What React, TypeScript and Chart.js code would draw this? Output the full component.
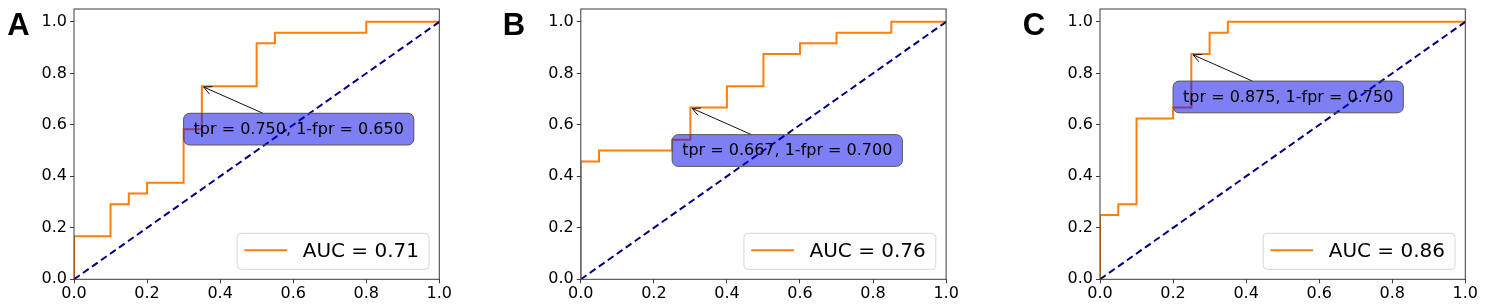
import React, { useEffect, useRef } from 'react';
import { Chart, registerables } from 'chart.js';

Chart.register(...registerables);

// ---- data ----
const PANEL_LETTERS = ['A', 'B', 'C'];

const FPR_A = [0, 0, 0.1, 0.1, 0.15, 0.15, 0.2, 0.2, 0.3, 0.3, 0.35, 0.35, 0.5, 0.5, 0.55, 0.55, 0.8, 0.8, 1.0];
const TPR_A = [0, 0.167, 0.167, 0.292, 0.292, 0.333, 0.333, 0.375, 0.375, 0.583, 0.583, 0.75, 0.75, 0.917, 0.917, 0.958, 0.958, 1.0, 1.0];

const FPR_B = [0, 0, 0.05, 0.05, 0.25, 0.25, 0.3, 0.3, 0.4, 0.4, 0.5, 0.5, 0.6, 0.6, 0.7, 0.7, 0.85, 0.85, 1.0];
const TPR_B = [0, 0.458, 0.458, 0.5, 0.5, 0.542, 0.542, 0.667, 0.667, 0.75, 0.75, 0.875, 0.875, 0.917, 0.917, 0.958, 0.958, 1.0, 1.0];

const FPR_C = [0, 0, 0.05, 0.05, 0.1, 0.1, 0.2, 0.2, 0.25, 0.25, 0.3, 0.3, 0.35, 0.35, 1.0];
const TPR_C = [0, 0.25, 0.25, 0.292, 0.292, 0.625, 0.625, 0.667, 0.667, 0.875, 0.875, 0.958, 0.958, 1.0, 1.0];

const ROC_FPR = [FPR_A, FPR_B, FPR_C];
const ROC_TPR = [TPR_A, TPR_B, TPR_C];

const AUC_VALUES = [0.71, 0.76, 0.86];
const ANNOT_TPR = [0.75, 0.667, 0.875];
const ANNOT_SPEC = [0.65, 0.7, 0.75];

const CHANCE_X = [0, 1];
const CHANCE_Y = [0, 1];

const TICKS = [0, 0.2, 0.4, 0.6, 0.8, 1.0];
const X_MIN = 0, X_MAX = 1.0;
const Y_MIN = 0, Y_MAX = 1.05;

// ---- layout / style ----
const PAGE_H = 308;
const CANVAS_LEFT = [0, 495, 1010];
const CANVAS_W = [462, 472, 476];
const AXES_LEFT = [74, 580.8, 1100];
const AXES_W = 365.3;
const AXES_TOP = 9;
const AXES_BOTTOM = 279.3;
const LETTER_X = [7.3, 502.7, 1022.7];
const LETTER_BASELINE = 35;

const ORANGE = '#ff7f0e';
const NAVY = '#000080';
const SPINE = '#3a3a3a';
const FONT = '"DejaVu Sans", Verdana, sans-serif';

function Panel({ idx }: { idx: number }) {
  const ref = useRef<HTMLCanvasElement | null>(null);

  useEffect(() => {
    const canvas = ref.current;
    if (!canvas) return;
    const left = CANVAS_LEFT[idx];
    const width = CANVAS_W[idx];
    const axesLeft = AXES_LEFT[idx] - left;
    const padRight = width - (axesLeft + AXES_W);

    const rocData = ROC_FPR[idx].map((x, i) => ({ x, y: ROC_TPR[idx][i] }));
    const chanceData = CHANCE_X.map((x, i) => ({ x, y: CHANCE_Y[i] }));
    const label = `AUC = ${AUC_VALUES[idx].toFixed(2)}`;
    const annotText = `tpr = ${ANNOT_TPR[idx].toFixed(3)}, 1-fpr = ${ANNOT_SPEC[idx].toFixed(3)}`;
    const ptX = 1 - ANNOT_SPEC[idx];
    const ptY = ANNOT_TPR[idx];

    const overlay = {
      id: 'overlay',
      afterDatasetsDraw(chart: any) {
        const { ctx, chartArea: ca, scales } = chart;
        const xs = scales.x;
        const ys = scales.y;
        ctx.save();

        // annotation arrow + box
        ctx.font = `16px ${FONT}`;
        const tw = ctx.measureText(annotText).width;
        const pad = 10;
        const bw = tw + 2 * pad;
        const bh = 31.7;
        const bx = xs.getPixelForValue(ptX - 0.05);
        const cy = ys.getPixelForValue(ptY - 1 / 6);
        const by = cy - bh / 2;
        const cx = bx + bw / 2;
        const px = xs.getPixelForValue(ptX);
        const py = ys.getPixelForValue(ptY);
        const dx = px - cx, dy = py - cy;
        const tx = (dx < 0 ? bx - cx : bx + bw - cx) / dx;
        const ty = (dy < 0 ? by - cy : by + bh - cy) / dy;
        const t0 = Math.min(Math.abs(tx), Math.abs(ty));
        const sx = cx + dx * t0, sy = cy + dy * t0;
        const len = Math.hypot(px - sx, py - sy);
        const ux = (px - sx) / len, uy = (py - sy) / len;
        const ex = px - ux * 2, ey = py - uy * 2;
        ctx.strokeStyle = '#111';
        ctx.lineWidth = 1;
        ctx.beginPath();
        ctx.moveTo(sx, sy);
        ctx.lineTo(ex, ey);
        const hl = 8, hw = 4;
        ctx.moveTo(ex - ux * hl - uy * hw, ey - uy * hl + ux * hw);
        ctx.lineTo(ex, ey);
        ctx.lineTo(ex - ux * hl + uy * hw, ey - uy * hl - ux * hw);
        ctx.stroke();

        ctx.beginPath();
        ctx.roundRect(bx, by, bw, bh, 6);
        ctx.fillStyle = 'rgba(0, 0, 235, 0.5)';
        ctx.fill();
        ctx.strokeStyle = '#555';
        ctx.lineWidth = 1;
        ctx.stroke();
        ctx.fillStyle = '#000';
        ctx.textAlign = 'left';
        ctx.textBaseline = 'middle';
        ctx.fillText(annotText, bx + pad, cy + 0.5);

        // legend
        ctx.font = `20px ${FONT}`;
        const ltw = ctx.measureText(label).width;
        const lh = 36;
        const lw = 7.3 + 42.7 + 15.6 + ltw + 10;
        const lx = ca.right - 10.3 - lw;
        const ly = ca.bottom - 10 - lh;
        ctx.beginPath();
        ctx.roundRect(lx, ly, lw, lh, 4);
        ctx.fillStyle = 'rgba(255,255,255,0.8)';
        ctx.fill();
        ctx.strokeStyle = '#d6d6d6';
        ctx.stroke();
        ctx.strokeStyle = ORANGE;
        ctx.lineWidth = 2;
        ctx.beginPath();
        ctx.moveTo(lx + 7.3, ly + lh / 2 - 1);
        ctx.lineTo(lx + 50, ly + lh / 2 - 1);
        ctx.stroke();
        ctx.fillStyle = '#000';
        ctx.textBaseline = 'middle';
        ctx.fillText(label, lx + 65.6, ly + lh / 2 + 0.5);

        // frame
        ctx.strokeStyle = SPINE;
        ctx.lineWidth = 1;
        ctx.strokeRect(ca.left, ca.top, ca.right - ca.left, ca.bottom - ca.top);

        // panel letter
        ctx.font = `bold 31px "Liberation Sans", Arial, sans-serif`;
        ctx.fillStyle = '#000';
        ctx.textAlign = 'left';
        ctx.textBaseline = 'alphabetic';
        ctx.fillText(PANEL_LETTERS[idx], LETTER_X[idx] - left, LETTER_BASELINE);
        ctx.restore();
      },
    };

    const fixTicks = (scale: any) => {
      scale.ticks = TICKS.map((v) => ({ value: v }));
    };

    const chart = new Chart(canvas, {
      type: 'line',
      data: {
        datasets: [
          {
            label,
            data: rocData,
            borderColor: ORANGE,
            borderWidth: 2,
            pointRadius: 0,
            tension: 0,
            fill: false,
            order: 1,
          },
          {
            label: 'chance',
            data: chanceData,
            borderColor: NAVY,
            borderWidth: 2,
            borderDash: [7, 4],
            pointRadius: 0,
            fill: false,
            order: 0,
          },
        ],
      },
      options: {
        responsive: false,
        animation: false,
        events: [],
        layout: { padding: { left: 0, top: AXES_TOP, right: padRight, bottom: 0 } },
        plugins: { legend: { display: false }, tooltip: { enabled: false }, title: { display: false } },
        scales: {
          x: {
            type: 'linear',
            min: X_MIN,
            max: X_MAX,
            afterBuildTicks: fixTicks,
            afterFit: (s: any) => {
              s.height = PAGE_H - AXES_BOTTOM;
              s.paddingLeft = 0;
              s.paddingRight = 0;
            },
            grid: { display: true, drawOnChartArea: false, drawTicks: true, tickLength: 4, color: SPINE, lineWidth: 1 },
            border: { display: false },
            ticks: {
              font: { family: FONT, size: 16 },
              color: '#000',
              padding: 1,
              maxRotation: 0,
              autoSkip: false,
              callback: (v: any) => Number(v).toFixed(1),
            },
          },
          y: {
            type: 'linear',
            min: Y_MIN,
            max: Y_MAX,
            afterBuildTicks: fixTicks,
            afterFit: (s: any) => {
              s.width = axesLeft;
              s.paddingTop = 0;
              s.paddingBottom = 0;
            },
            grid: { display: true, drawOnChartArea: false, drawTicks: true, tickLength: 4, color: SPINE, lineWidth: 1 },
            border: { display: false },
            ticks: {
              font: { family: FONT, size: 16 },
              color: '#000',
              padding: 3,
              autoSkip: false,
              callback: (v: any) => Number(v).toFixed(1),
            },
          },
        },
      },
      plugins: [overlay],
    });
    return () => chart.destroy();
  }, [idx]);

  return (
    <canvas
      ref={ref}
      width={CANVAS_W[idx]}
      height={PAGE_H}
      style={{ position: 'absolute', left: CANVAS_LEFT[idx], top: 0, width: CANVAS_W[idx], height: PAGE_H }}
    />
  );
}

export default function App() {
  return (
    <div style={{ position: 'fixed', left: 0, top: 0, width: 1486, height: PAGE_H, background: '#fff', overflow: 'hidden' }}>
      {PANEL_LETTERS.map((_, i) => (
        <Panel key={i} idx={i} />
      ))}
    </div>
  );
}
